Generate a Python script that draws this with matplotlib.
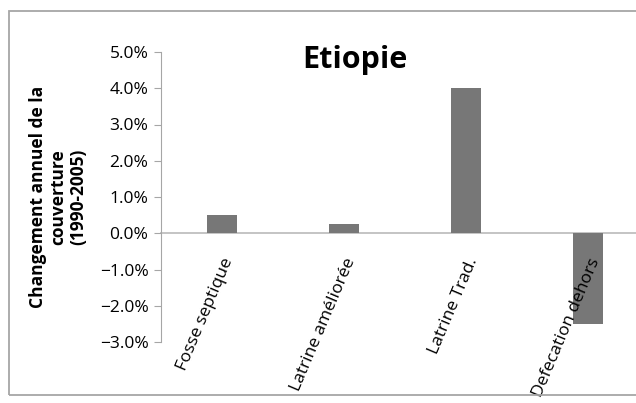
#!/usr/bin/env python3

"""Bar chart of annual change in sanitation coverage, Ethiopia 1990-2005."""

import matplotlib.pyplot as plt
from matplotlib.patches import Rectangle
from matplotlib.ticker import PercentFormatter

categories = ["Fosse septique", "Latrine améliorée", "Latrine Trad.", "Defecation dehors"]
changes = [0.005, 0.0025, 0.040, -0.025]
yticks = [-0.03, -0.02, -0.01, 0.0, 0.01, 0.02, 0.03, 0.04, 0.05]

plt.rcParams['font.family'] = ['Open Sans', 'DejaVu Sans']

fig = plt.figure(figsize=(6.36, 4.03), dpi=100)

# chart frame
fig.patches.append(Rectangle((9 / 636, 1 - 395 / 403), 1.0, (395 - 11) / 403,
                             transform=fig.transFigure, fill=False,
                             edgecolor="#a6a6a6", linewidth=1.3))

ax = fig.add_axes([161 / 636, 1 - 342 / 403, 488 / 636, 290 / 403])
x = range(len(categories))
ax.bar(x, changes, width=0.25, color="#777777", zorder=1)

ax.set_xlim(-0.5, len(categories) - 0.5)
ax.set_ylim(-0.03, 0.05)
ax.set_yticks(yticks)
ax.yaxis.set_major_formatter(PercentFormatter(1.0, decimals=1))
ax.tick_params(axis='y', labelsize=12.5, length=5, color="#a6a6a6", pad=4)

ax.spines['top'].set_visible(False)
ax.spines['right'].set_visible(False)
ax.spines['left'].set_color("#a6a6a6")
ax.spines['bottom'].set_position(('data', 0))
ax.spines['bottom'].set_color("#bfbfbf")
ax.spines['bottom'].set_linewidth(1.3)
ax.spines['bottom'].set_zorder(0)

ax.set_xticks(list(x))
ax.set_xticklabels(categories, rotation=67, ha='right', va='top',
                   rotation_mode='anchor', fontsize=12.5)
ax.tick_params(axis='x', length=0, pad=16)
for lbl in ax.get_xticklabels():
    lbl.set_zorder(3)

ax.set_ylabel("Changement annuel de la\ncouverture\n(1990-2005)",
              fontsize=12.5, fontweight='bold', labelpad=9, linespacing=1.15)

fig.text(355 / 636, 1 - 60 / 403, "Etiopie", fontsize=22, fontweight='bold',
         ha='center', va='center')

fig.savefig("out.png", dpi=100)
